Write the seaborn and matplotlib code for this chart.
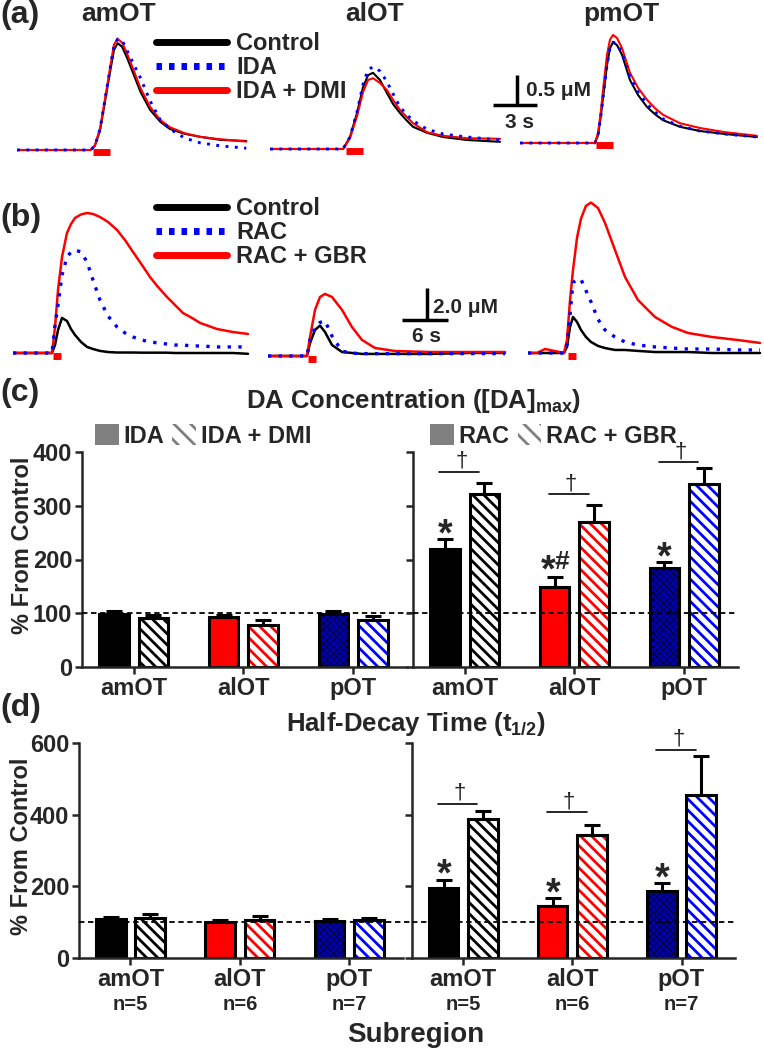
import numpy as np
import pandas as pd
import matplotlib
matplotlib.use("Agg")
import matplotlib.pyplot as plt
import seaborn as sns
from matplotlib.lines import Line2D
from matplotlib.patches import Patch

W, H = 764, 1050

sns.set_style("ticks")
plt.rcParams["font.family"] = ["Liberation Sans", "DejaVu Sans"]
plt.rcParams["font.weight"] = "bold"
plt.rcParams["mathtext.fontset"] = "custom"
plt.rcParams["mathtext.rm"] = "Liberation Sans:bold"
plt.rcParams["mathtext.default"] = "rm"
plt.rcParams["hatch.linewidth"] = 2.0

# ── (a) evoked DA traces, IDA / DMI (time in s, [DA] in uM) ──────────────────
t_a_am    = [0, 5.0, 5.3, 5.65, 6.0, 6.35, 6.6, 6.85, 7.15, 7.5, 7.9, 8.4, 9.05, 9.75, 10.4, 11.4, 12.45, 13.8, 15.6]
a_am_ctrl = [0, 0, 0.07, 0.33, 0.83, 1.33, 1.67, 1.78, 1.72, 1.53, 1.28, 0.97, 0.67, 0.47, 0.35, 0.27, 0.22, 0.17, 0.15]
a_am_ida  = [0, 0, 0.07, 0.35, 0.86, 1.38, 1.74, 1.85, 1.83, 1.65, 1.45, 1.2, 0.82, 0.5, 0.35, 0.2, 0.12, 0.07, 0.03]
a_am_dmi  = [0, 0, 0.08, 0.36, 0.87, 1.4, 1.76, 1.85, 1.79, 1.6, 1.35, 1.03, 0.72, 0.5, 0.38, 0.28, 0.22, 0.18, 0.14]

t_a_al    = [0, 4.97, 5.44, 5.92, 6.33, 6.67, 7.01, 7.48, 7.96, 8.37, 8.84, 9.32, 9.73, 10.68, 11.77, 13.4, 15.65]
a_al_ctrl = [0, 0, 0.2, 0.6, 1.03, 1.23, 1.27, 1.15, 0.93, 0.75, 0.6, 0.47, 0.37, 0.27, 0.2, 0.15, 0.12]
a_al_ida  = [0, 0, 0.2, 0.62, 1.08, 1.32, 1.37, 1.3, 1.12, 0.92, 0.7, 0.57, 0.47, 0.33, 0.25, 0.2, 0.15]
a_al_dmi  = [0, 0, 0.18, 0.55, 0.95, 1.15, 1.18, 1.1, 0.98, 0.82, 0.65, 0.53, 0.43, 0.28, 0.22, 0.18, 0.17]

t_a_pm    = [0, 5.1, 5.31, 5.51, 5.71, 5.92, 6.12, 6.33, 6.6, 6.94, 7.48, 8.03, 8.64, 9.18, 9.73, 10.88, 12.24, 13.95, 16.12]
a_pm_ctrl = [0, 0, 0.13, 0.47, 0.88, 1.3, 1.58, 1.68, 1.63, 1.47, 1.05, 0.8, 0.6, 0.48, 0.38, 0.27, 0.2, 0.15, 0.1]
a_pm_ida  = [0, 0, 0.13, 0.47, 0.88, 1.3, 1.58, 1.68, 1.65, 1.5, 1.1, 0.85, 0.65, 0.52, 0.4, 0.28, 0.2, 0.15, 0.1]
a_pm_dmi  = [0, 0, 0.17, 0.55, 1.02, 1.47, 1.72, 1.8, 1.75, 1.58, 1.17, 0.92, 0.72, 0.58, 0.47, 0.33, 0.25, 0.18, 0.12]

# ── (b) evoked DA traces, RAC / GBR ──────────────────────────────────────────
t_b_am    = [0, 5.08, 5.48, 5.87, 6.39, 7.04, 7.56, 8.08, 8.87, 9.65, 10.43, 11.34, 12.39, 13.56, 14.6,
             15.65, 16.82, 17.86, 18.9, 20.08, 21.12, 22.16, 23.34, 24.38, 26.6, 28.68, 30.64]
b_am_ctrl = [0, 0, 0.5, 1.44, 2.19, 2.0, 1.5, 1.13, 0.69, 0.38, 0.25, 0.13, 0.06, 0.03, 0.03,
             0.03, 0.02, 0.02, 0.02, 0.02, 0, 0, 0, 0, 0, 0, -0.05]
b_am_rac  = [0, 0, 1.75, 3.0, 4.88, 6.0, 6.31, 6.44, 6.31, 5.69, 4.56, 3.31, 2.31, 1.63, 1.25,
             1.0, 0.81, 0.69, 0.63, 0.56, 0.5, 0.5, 0.44, 0.44, 0.38, 0.38, 0.38]
b_am_gbr  = [0, 0, 1.63, 3.94, 6.0, 7.5, 8.06, 8.44, 8.66, 8.75, 8.69, 8.5, 8.19, 7.69, 7.06,
             6.31, 5.5, 4.75, 4.13, 3.5, 3.0, 2.5, 2.19, 1.88, 1.5, 1.31, 1.19]

t_b_al    = [0, 5.08, 5.48, 6.13, 6.78, 7.43, 8.34, 9.65, 10.95, 12.26, 13.95, 16.56, 21.12, 26.34, 30.9]
b_al_ctrl = [0, 0, 0.81, 1.63, 1.9, 1.5, 0.69, 0.25, 0.19, 0.13, 0.13, 0.13, 0.13, 0.19, 0.19]
b_al_rac  = [0, 0, 1.0, 1.8, 2.1, 2.2, 1.25, 0.3, 0.18, 0.15, 0.15, 0.15, 0.15, 0.15, 0.15]
b_al_gbr  = [0, 0, 1.19, 2.88, 3.69, 3.88, 3.69, 2.88, 1.81, 1.0, 0.5, 0.31, 0.25, 0.25, 0.25]

t_b_pm    = [0, 1.17, 2.22, 3.52, 4.69, 5.08, 5.48, 5.87, 6.39, 6.91, 7.56, 8.21, 9.13, 10.04, 11.34,
             12.65, 14.34, 16.56, 18.77, 20.86, 23.99, 27.38, 30.25]
b_pm_ctrl = [0, 0, 0, 0, 0, 0.38, 1.63, 2.25, 1.94, 1.44, 1.0, 0.69, 0.44, 0.31, 0.19, 0.19, 0.13, 0.06, 0.06, 0.06, 0, 0, 0]
b_pm_rac  = [0, 0, 0, 0, 0, 0.5, 2.4, 4.4, 4.6, 4.6, 3.9, 3.2, 2.1, 1.44, 1.0, 0.69, 0.5, 0.38, 0.31, 0.25, 0.25, 0.19, 0.19]
b_pm_gbr  = [0, 0, 0.25, 0.12, 0, 0.8, 3.3, 5.2, 7.2, 8.4, 9.2, 9.4, 9.06, 8.13, 6.44, 4.75, 3.31, 2.25, 1.63, 1.25, 1.0, 0.81, 0.63]

stim_on, stim_off = 5.2, 6.3

# ── (c)/(d) % from control, mean and SEM ─────────────────────────────────────
regions  = ["amOT", "alOT", "pOT"]
n_labels = ["n=5", "n=6", "n=7"]

c_ida, c_ida_err = [99, 93, 98], [5, 4, 7]
c_dmi, c_dmi_err = [92, 79, 87], [5, 8, 7]
c_rac, c_rac_err = [219, 149, 184], [19, 18, 11]
c_gbr, c_gbr_err = [321, 269, 340], [22, 32, 31]
c_stars = ["*", "*#", "*"]
c_dagger_y = [363, 321, 381]

d_ida, d_ida_err = [109, 100, 102], [5, 7, 6]
d_dmi, d_dmi_err = [113, 105, 107], [11, 11, 6]
d_rac, d_rac_err = [195, 146, 186], [24, 21, 23]
d_gbr, d_gbr_err = [389, 342, 455], [20, 28, 108]
d_stars = ["*", "*", "*"]
d_dagger_y = [431, 407, 581]

BLUE = "#0000ff"
bar_colors = ["#000000", "#ff0000", BLUE]
FS = 17

fig = plt.figure(figsize=(W / 100, H / 100), dpi=100)
fig.patch.set_facecolor("white")


def px_axes(left, top, right, bottom):
    return fig.add_axes([left / W, 1 - bottom / H, (right - left) / W, (bottom - top) / H])


def trace_axes(x0, base, top, bottom, width, sx, sy):
    ax = px_axes(x0, top, x0 + width, bottom)
    ax.axis("off")
    return ax, (0, width / sx), ((base - bottom) / sy, (base - top) / sy)


def draw_traces(ax, lims, t, ctrl, drug, combo, stim_y, lw):
    sns.lineplot(x=t, y=ctrl, color="black", lw=lw, ax=ax)
    sns.lineplot(x=t, y=combo, color="red", lw=lw, ax=ax)
    sns.lineplot(x=t, y=drug, color=BLUE, lw=lw + 0.6, ls=(0, (1, 2.2)), ax=ax)
    sns.lineplot(x=[stim_on, stim_off], y=[stim_y, stim_y], color="red", lw=5,
                 solid_capstyle="butt", ax=ax)
    ax.set_xlim(*lims[0])
    ax.set_ylim(*lims[1])


# ── Panel (a) ────────────────────────────────────────────────────────────────
sa_x, sa_y = 14.7, 60.0
ax, *lim = trace_axes(17, 150, 25, 165, 245, sa_x, sa_y)
draw_traces(ax, lim, t_a_am, a_am_ctrl, a_am_ida, a_am_dmi, -0.04, 1.5)
ax, *lim = trace_axes(270, 149, 25, 165, 280, sa_x, sa_y)
draw_traces(ax, lim, t_a_al, a_al_ctrl, a_al_ida, a_al_dmi, -0.04, 1.5)
# scale bar: 3 s / 0.5 uM
ax.plot([15.17, 18.17], [0.73, 0.73], color="black", lw=2.5, solid_capstyle="butt")
ax.plot([16.8, 16.8], [0.73, 1.23], color="black", lw=2.5, solid_capstyle="butt")
ax.text(17.4, 0.98, "0.5 \u03bcM", fontsize=15, ha="left", va="center")
ax.text(17.0, 0.45, "3 s", fontsize=15, ha="center", va="center")
ax, *lim = trace_axes(520, 143, 25, 165, 244, sa_x, sa_y)
draw_traces(ax, lim, t_a_pm, a_pm_ctrl, a_pm_ida, a_pm_dmi, -0.04, 1.5)

for name, xc in zip(["amOT", "alOT", "pmOT"], [119, 375, 621]):
    fig.text(xc / W, 1 - 14 / H, name, fontsize=19, ha="center", va="center")

# ── Panel (b) ────────────────────────────────────────────────────────────────
sb_x, sb_y = 7.67, 16.0
ax, *lim = trace_axes(13, 353, 190, 370, 245, sb_x, sb_y)
draw_traces(ax, lim, t_b_am, b_am_ctrl, b_am_rac, b_am_gbr, -0.2, 1.8)
ax, *lim = trace_axes(268, 356, 190, 370, 250, sb_x, sb_y)
draw_traces(ax, lim, t_b_al, b_al_ctrl, b_al_rac, b_al_gbr, -0.2, 1.8)
# scale bar: 6 s / 2.0 uM
ax.plot([17.47, 23.47], [2.25, 2.25], color="black", lw=2.5, solid_capstyle="butt")
ax.plot([20.73, 20.73], [2.25, 4.25], color="black", lw=2.5, solid_capstyle="butt")
ax.text(21.5, 3.06, "2.0 \u03bcM", fontsize=15, ha="left", va="center")
ax.text(20.73, 1.19, "6 s", fontsize=15, ha="center", va="center")
ax, *lim = trace_axes(528, 353, 190, 370, 236, sb_x, sb_y)
draw_traces(ax, lim, t_b_pm, b_pm_ctrl, b_pm_rac, b_pm_gbr, -0.2, 1.8)


# trace legends
def trace_legend(labels, top):
    handles = [Line2D([], [], color="black", lw=5),
               Line2D([], [], color=BLUE, lw=5, ls=(0, (0.8, 1.0))),
               Line2D([], [], color="red", lw=5)]
    fig.legend(handles, labels, loc="upper left", bbox_to_anchor=(156 / W, 1 - top / H),
               frameon=False, fontsize=FS, handlelength=3.0, handletextpad=0.4,
               labelspacing=0.05, borderpad=0, borderaxespad=0)


trace_legend(["Control", "IDA", "IDA + DMI"], 32)
trace_legend(["Control", "RAC", "RAC + GBR"], 197)


# ── Bar panels ───────────────────────────────────────────────────────────────
def bar_panel(ax, v1, e1, v2, e2, ymax, step, show_labels):
    df = pd.DataFrame({"region": regions * 2,
                       "cond": ["drug"] * 3 + ["combo"] * 3,
                       "val": v1 + v2})
    sns.barplot(data=df, x="region", y="val", hue="cond", order=regions,
                hue_order=["drug", "combo"], palette=["white", "white"],
                width=0.72, gap=0.25, errorbar=None, legend=False,
                linewidth=0, ax=ax)
    for i, p in enumerate(ax.containers[0]):
        if i == 2:
            p.set_facecolor("#0000b0")
            p.set_edgecolor("#000030")
            p.set_hatch("xxxxx")
            if hasattr(p, "set_hatch_linewidth"):
                p.set_hatch_linewidth(0.6)
        else:
            p.set_facecolor(bar_colors[i])
            p.set_edgecolor(bar_colors[i])
        p.set_linewidth(0)
    for i, p in enumerate(ax.containers[1]):
        p.set_facecolor("white")
        p.set_edgecolor(bar_colors[i])
        p.set_hatch("\\\\\\")
        p.set_linewidth(0)
    # outlines
    sns.barplot(data=df, x="region", y="val", hue="cond", order=regions,
                hue_order=["drug", "combo"], palette=["black", "black"],
                width=0.72, gap=0.25, errorbar=None, legend=False,
                fill=False, linewidth=2.2, ax=ax)
    for cont, vals, errs in [(ax.containers[0], v1, e1), (ax.containers[1], v2, e2)]:
        xs = [p.get_x() + p.get_width() / 2 for p in cont]
        ax.errorbar(xs, vals, yerr=[np.zeros(len(errs)), errs], fmt="none",
                    ecolor="black", elinewidth=2.2, capsize=5.5, capthick=2.2, zorder=4)
    ax.set_xlim(-0.47, 2.49)
    ax.set_ylim(0, ymax)
    ax.set_yticks(np.arange(0, ymax + 1, step))
    ax.set_xlabel("")
    ax.set_ylabel("")
    sns.despine(ax=ax)
    for s in ["left", "bottom"]:
        ax.spines[s].set_linewidth(1.8)
    ax.tick_params(axis="both", direction="out", length=5, width=1.8, labelsize=FS, pad=2)
    if not show_labels:
        ax.set_yticklabels([])


def dashed_ref(ax, left_side):
    if left_side:
        ax.axhline(100, xmin=0, xmax=1.03, color="black", lw=1.3, ls=(0, (3, 2)), clip_on=False, zorder=5)
    else:
        ax.axhline(100, xmin=0, xmax=1.0, color="black", lw=1.3, ls=(0, (3, 2)), zorder=5)


def sig_marks(ax, stars, dagger_y, vals, errs):
    c1, c2 = ax.containers[0], ax.containers[1]
    for i in range(3):
        x1 = c1[i].get_x() + c1[i].get_width() / 2
        x2 = c2[i].get_x() + c2[i].get_width() / 2
        ax.plot([x1 - 0.05, x2 - 0.05], [dagger_y[i]] * 2, color="black", lw=1.2, clip_on=False)
        ax.text((x1 + x2) / 2 - 0.03, dagger_y[i], "\u2020", fontsize=16, fontweight="normal",
                ha="center", va="bottom", clip_on=False)
        top = vals[i] + errs[i]
        if "#" in stars[i]:
            ax.annotate("*", (x1, top), xytext=(1, 6), textcoords="offset pixels",
                        fontsize=27, ha="right", va="center")
            ax.annotate("#", (x1, top), xytext=(0, 15), textcoords="offset pixels",
                        fontsize=19, ha="left", va="center")
        else:
            ax.annotate("*", (x1, top), xytext=(0, 4), textcoords="offset pixels",
                        fontsize=27, ha="center", va="center")


# (c)
axc1 = px_axes(82, 452, 407, 667)
axc2 = px_axes(413, 452, 738, 667)
bar_panel(axc1, c_ida, c_ida_err, c_dmi, c_dmi_err, 400, 100, True)
bar_panel(axc2, c_rac, c_rac_err, c_gbr, c_gbr_err, 400, 100, False)
dashed_ref(axc1, True)
dashed_ref(axc2, False)
sig_marks(axc2, c_stars, c_dagger_y, c_rac, c_rac_err)

# (d)
axd1 = px_axes(79, 743, 403, 958)
axd2 = px_axes(412, 743, 735, 958)
bar_panel(axd1, d_ida, d_ida_err, d_dmi, d_dmi_err, 600, 200, True)
bar_panel(axd2, d_rac, d_rac_err, d_gbr, d_gbr_err, 600, 200, False)
dashed_ref(axd1, True)
dashed_ref(axd2, False)
sig_marks(axd2, d_stars, d_dagger_y, d_rac, d_rac_err)

for ax in [axd1, axd2]:
    for i, lab in enumerate(n_labels):
        ax.annotate(lab, (i, 0), xycoords=("data", "axes fraction"), xytext=(0, -47),
                    textcoords="offset pixels", fontsize=14.5, ha="center", va="center")


# bar legends
def bar_legend(labels, x_px):
    handles = [Patch(facecolor="#808080", edgecolor="#808080", lw=0),
               Patch(facecolor="white", edgecolor="#808080", hatch="\\\\", lw=0)]
    fig.legend(handles, labels, loc="center left", bbox_to_anchor=(x_px / W, 1 - 436 / H),
               ncol=2, frameon=False, fontsize=FS, handlelength=1.0, handleheight=1.0,
               handletextpad=0.2, columnspacing=0.35, borderpad=0, borderaxespad=0)


bar_legend(["IDA", "IDA + DMI"], 95)
bar_legend(["RAC", "RAC + GBR"], 430)

# titles and labels
fig.text(414 / W, 1 - 401 / H, "DA Concentration ([DA]$_{max}$)", fontsize=18.5, ha="center", va="center")
fig.text(416 / W, 1 - 724 / H, "Half-Decay Time (t$_{1/2}$)", fontsize=18.5, ha="center", va="center")
fig.text(23 / W, 1 - 545 / H, "% From Control", fontsize=17, rotation=90, ha="center", va="center")
fig.text(22 / W, 1 - 846 / H, "% From Control", fontsize=17, rotation=90, ha="center", va="center")
fig.text(416 / W, 1 - 1035 / H, "Subregion", fontsize=20, ha="center", va="center")

for lab, yc in zip(["(a)", "(b)", "(c)", "(d)"], [15, 218, 393, 708]):
    fig.text(0, 1 - yc / H, lab, fontsize=23, ha="left", va="center")

fig.savefig("out.png", dpi=100, facecolor="white")
